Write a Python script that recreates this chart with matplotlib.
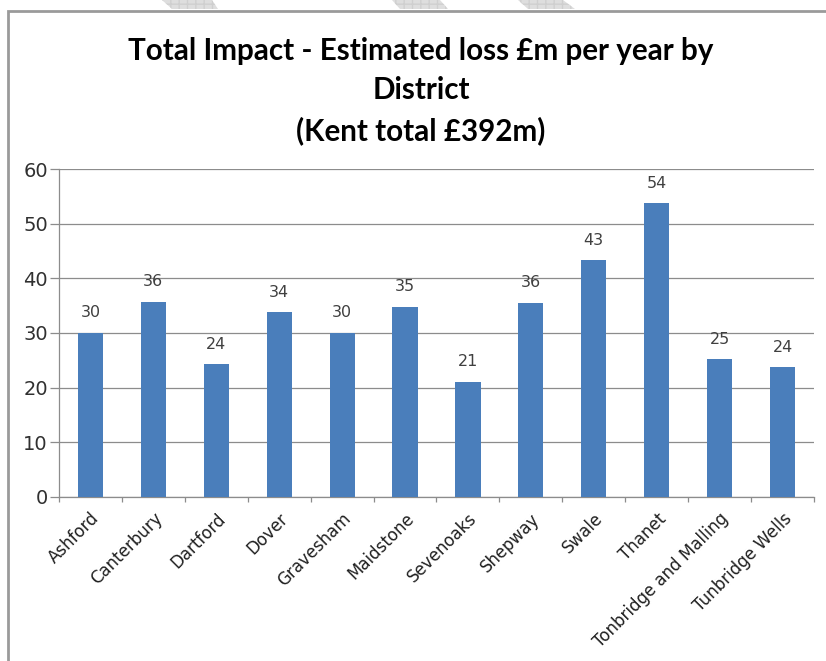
import matplotlib
matplotlib.use("Agg")
import matplotlib.pyplot as plt
from matplotlib.patches import Rectangle, Polygon
import numpy as np

districts = ["Ashford", "Canterbury", "Dartford", "Dover", "Gravesham", "Maidstone",
             "Sevenoaks", "Shepway", "Swale", "Thanet", "Tonbridge and Malling",
             "Tunbridge Wells"]
loss = [30.0, 35.7, 24.3, 33.8, 30.0, 34.8, 21.1, 35.5, 43.3, 53.7, 25.2, 23.7]
labels = ["30", "36", "24", "34", "30", "35", "21", "36", "43", "54", "25", "24"]
yticks = [0, 10, 20, 30, 40, 50, 60]
title = "Total Impact - Estimated loss £m per year by\nDistrict\n(Kent total £392m)"

plt.rcParams['font.family'] = ['DejaVu Sans']

W, H = 826, 661
fig = plt.figure(figsize=(W / 100, H / 100), dpi=100)
fig.patch.set_facecolor("white")

# frame around chart
fig.add_artist(Rectangle((8 / W, -0.05), (W - 8 + 40) / W, (H - 11.5) / H + 0.05,
                         transform=fig.transFigure, fill=False,
                         edgecolor="#9a9a9a", lw=2.0))

# faint decorative shapes at top
for (l0, r0, l1, r1) in [(162, 212, 172, 218), (392, 440, 400, 448), (518, 563, 528, 575)]:
    pts = [(l0 / W, 1.0), (r0 / W, 1.0), (r1 / W, 1 - 9 / H), (l1 / W, 1 - 9 / H)]
    fig.add_artist(Polygon(pts, closed=True, transform=fig.transFigure,
                           facecolor="#dedede", edgecolor="#cfcfcf", hatch="++",
                           lw=0))

ax = fig.add_axes([59 / W, 1 - 497 / H, (814 - 59) / W, (497 - 169) / H])
x = np.arange(len(districts))
ax.bar(x, loss, width=0.4, color="#4a7ebb", zorder=3)
for xi, v, lab in zip(x, loss, labels):
    ax.text(xi, v + 2.3, lab, ha="center", va="bottom", fontsize=11.5,
            color="#404040")

ax.set_xlim(-0.5, len(districts) - 0.5)
ax.set_ylim(0, 60)
ax.set_yticks(yticks)
ax.set_yticklabels([str(t) for t in yticks], fontsize=14, color="#303030")
ax.yaxis.grid(True, color="#8c8c8c", lw=0.9, zorder=0)
ax.tick_params(axis="y", length=6.5, color="#8c8c8c", width=0.9, pad=1.5)

ax.set_xticks(np.arange(len(districts) + 1) - 0.5)
ax.set_xticklabels([])
ax.set_xticks(x, minor=True)
ax.set_xticklabels(districts, minor=True, rotation=45, ha="right",
                   rotation_mode="anchor", fontsize=12, color="#202020")
ax.tick_params(axis="x", which="major", length=3.8, color="#8c8c8c", width=0.9)
ax.tick_params(axis="x", which="minor", length=0, pad=9)

for s in ["top", "right"]:
    ax.spines[s].set_visible(False)
for s in ["left", "bottom"]:
    ax.spines[s].set_color("#8c8c8c")
    ax.spines[s].set_linewidth(0.9)

fig.text(421 / W, 1 - 91 / H, title, ha="center", va="center", fontsize=21.3,
         fontweight="bold", linespacing=1.5, color="black", family=["Lato", "DejaVu Sans"])

fig.savefig("out.png", dpi=100, facecolor="white")
